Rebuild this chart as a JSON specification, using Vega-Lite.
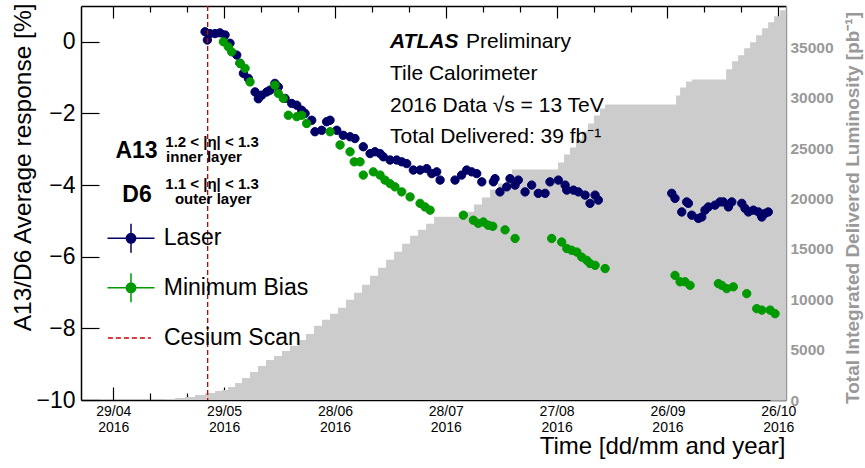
{
  "$schema": "https://vega.github.io/schema/vega-lite/v6.json",
  "width": 705,
  "height": 394,
  "autosize": "none",
  "padding": {"left": 81, "top": 6, "right": 79, "bottom": 68},
  "background": "white",
  "config": {
    "view": {"stroke": null},
    "font": "Liberation Sans",
    "axis": {"grid": false, "zindex": 1, "labelFont": "Liberation Sans", "titleFont": "Liberation Sans", "domainColor": "black", "tickColor": "black", "labelColor": "black", "titleColor": "black", "labelFlush": false, "labelOverlap": false},
    "legend": {"labelFont": "Liberation Sans"}
  },
  "datasets": {
    "response": [
      {"date": "2016-05-23T20:00", "series": "Laser", "value": 0.28},
      {"date": "2016-05-24T11:00", "series": "Laser", "value": 0.05},
      {"date": "2016-05-25T04:00", "series": "Laser", "value": 0.23},
      {"date": "2016-05-26T13:00", "series": "Laser", "value": 0.23},
      {"date": "2016-05-27T21:00", "series": "Laser", "value": 0.25},
      {"date": "2016-05-29T06:00", "series": "Laser", "value": 0.19},
      {"date": "2016-05-30T14:00", "series": "Laser", "value": -0.04},
      {"date": "2016-06-01T10:00", "series": "Laser", "value": -0.37},
      {"date": "2016-06-02T07:00", "series": "Laser", "value": -0.60},
      {"date": "2016-06-03T05:00", "series": "Laser", "value": -0.88},
      {"date": "2016-06-04T13:00", "series": "Laser", "value": -1.02},
      {"date": "2016-06-06T09:00", "series": "Laser", "value": -1.40},
      {"date": "2016-06-07T06:00", "series": "Laser", "value": -1.59},
      {"date": "2016-06-08T04:00", "series": "Laser", "value": -1.49},
      {"date": "2016-06-09T13:00", "series": "Laser", "value": -1.40},
      {"date": "2016-06-10T10:00", "series": "Laser", "value": -1.35},
      {"date": "2016-06-11T18:00", "series": "Laser", "value": -1.16},
      {"date": "2016-06-12T16:00", "series": "Laser", "value": -1.26},
      {"date": "2016-06-14T12:00", "series": "Laser", "value": -1.58},
      {"date": "2016-06-16T07:00", "series": "Laser", "value": -1.72},
      {"date": "2016-06-17T16:00", "series": "Laser", "value": -1.77},
      {"date": "2016-06-19T00:00", "series": "Laser", "value": -1.91},
      {"date": "2016-06-19T22:00", "series": "Laser", "value": -2.00},
      {"date": "2016-06-21T17:00", "series": "Laser", "value": -2.19},
      {"date": "2016-06-22T14:00", "series": "Laser", "value": -2.51},
      {"date": "2016-06-24T10:00", "series": "Laser", "value": -2.47},
      {"date": "2016-06-25T18:00", "series": "Laser", "value": -2.23},
      {"date": "2016-06-26T16:00", "series": "Laser", "value": -2.19},
      {"date": "2016-06-28T12:00", "series": "Laser", "value": -2.47},
      {"date": "2016-06-30T06:00", "series": "Laser", "value": -2.61},
      {"date": "2016-07-02T02:00", "series": "Laser", "value": -2.65},
      {"date": "2016-07-03T10:00", "series": "Laser", "value": -2.70},
      {"date": "2016-07-05T16:00", "series": "Laser", "value": -2.93},
      {"date": "2016-07-07T12:00", "series": "Laser", "value": -3.12},
      {"date": "2016-07-08T20:00", "series": "Laser", "value": -3.07},
      {"date": "2016-07-10T05:00", "series": "Laser", "value": -3.12},
      {"date": "2016-07-11T02:00", "series": "Laser", "value": -3.21},
      {"date": "2016-07-12T22:00", "series": "Laser", "value": -3.30},
      {"date": "2016-07-14T17:00", "series": "Laser", "value": -3.30},
      {"date": "2016-07-16T02:00", "series": "Laser", "value": -3.35},
      {"date": "2016-07-17T10:00", "series": "Laser", "value": -3.40},
      {"date": "2016-07-19T05:00", "series": "Laser", "value": -3.58},
      {"date": "2016-07-21T01:00", "series": "Laser", "value": -3.58},
      {"date": "2016-07-22T20:00", "series": "Laser", "value": -3.54},
      {"date": "2016-07-24T05:00", "series": "Laser", "value": -3.68},
      {"date": "2016-07-25T13:00", "series": "Laser", "value": -3.63},
      {"date": "2016-07-26T11:00", "series": "Laser", "value": -3.86},
      {"date": "2016-07-30T12:00", "series": "Laser", "value": -3.86},
      {"date": "2016-08-01T07:00", "series": "Laser", "value": -3.72},
      {"date": "2016-08-02T16:00", "series": "Laser", "value": -3.58},
      {"date": "2016-08-04T00:00", "series": "Laser", "value": -3.63},
      {"date": "2016-08-05T09:00", "series": "Laser", "value": -3.68},
      {"date": "2016-08-06T18:00", "series": "Laser", "value": -3.91},
      {"date": "2016-08-09T21:00", "series": "Laser", "value": -3.91},
      {"date": "2016-08-10T08:00", "series": "Laser", "value": -3.82},
      {"date": "2016-08-11T16:00", "series": "Laser", "value": -4.19},
      {"date": "2016-08-13T12:00", "series": "Laser", "value": -4.05},
      {"date": "2016-08-14T09:00", "series": "Laser", "value": -3.82},
      {"date": "2016-08-15T18:00", "series": "Laser", "value": -4.00},
      {"date": "2016-08-16T15:00", "series": "Laser", "value": -3.86},
      {"date": "2016-08-18T11:00", "series": "Laser", "value": -4.19},
      {"date": "2016-08-20T06:00", "series": "Laser", "value": -4.00},
      {"date": "2016-08-22T01:00", "series": "Laser", "value": -4.23},
      {"date": "2016-08-23T21:00", "series": "Laser", "value": -4.23},
      {"date": "2016-08-25T05:00", "series": "Laser", "value": -3.91},
      {"date": "2016-08-27T11:00", "series": "Laser", "value": -3.86},
      {"date": "2016-08-29T07:00", "series": "Laser", "value": -4.00},
      {"date": "2016-08-29T18:00", "series": "Laser", "value": -4.14},
      {"date": "2016-08-31T13:00", "series": "Laser", "value": -4.14},
      {"date": "2016-09-01T21:00", "series": "Laser", "value": -4.19},
      {"date": "2016-09-03T17:00", "series": "Laser", "value": -4.28},
      {"date": "2016-09-05T01:00", "series": "Laser", "value": -4.51},
      {"date": "2016-09-06T10:00", "series": "Laser", "value": -4.28},
      {"date": "2016-09-07T07:00", "series": "Laser", "value": -4.42},
      {"date": "2016-09-27T04:00", "series": "Laser", "value": -4.23},
      {"date": "2016-09-28T01:00", "series": "Laser", "value": -4.37},
      {"date": "2016-09-29T21:00", "series": "Laser", "value": -4.75},
      {"date": "2016-10-01T05:00", "series": "Laser", "value": -4.47},
      {"date": "2016-10-01T16:00", "series": "Laser", "value": -4.51},
      {"date": "2016-10-02T14:00", "series": "Laser", "value": -4.84},
      {"date": "2016-10-04T09:00", "series": "Laser", "value": -4.93},
      {"date": "2016-10-05T07:00", "series": "Laser", "value": -4.89},
      {"date": "2016-10-06T04:00", "series": "Laser", "value": -4.70},
      {"date": "2016-10-07T02:00", "series": "Laser", "value": -4.61},
      {"date": "2016-10-08T21:00", "series": "Laser", "value": -4.56},
      {"date": "2016-10-10T06:00", "series": "Laser", "value": -4.47},
      {"date": "2016-10-11T03:00", "series": "Laser", "value": -4.47},
      {"date": "2016-10-12T12:00", "series": "Laser", "value": -4.61},
      {"date": "2016-10-13T10:00", "series": "Laser", "value": -4.47},
      {"date": "2016-10-16T03:00", "series": "Laser", "value": -4.51},
      {"date": "2016-10-17T00:00", "series": "Laser", "value": -4.65},
      {"date": "2016-10-17T22:00", "series": "Laser", "value": -4.75},
      {"date": "2016-10-19T06:00", "series": "Laser", "value": -4.70},
      {"date": "2016-10-20T15:00", "series": "Laser", "value": -4.75},
      {"date": "2016-10-21T13:00", "series": "Laser", "value": -4.89},
      {"date": "2016-10-22T10:00", "series": "Laser", "value": -4.79},
      {"date": "2016-10-23T07:00", "series": "Laser", "value": -4.75},
      {"date": "2016-05-28T19:00", "series": "Minimum Bias", "value": 0.00},
      {"date": "2016-05-30T03:00", "series": "Minimum Bias", "value": -0.14},
      {"date": "2016-05-31T01:00", "series": "Minimum Bias", "value": -0.28},
      {"date": "2016-06-02T07:00", "series": "Minimum Bias", "value": -0.60},
      {"date": "2016-06-03T16:00", "series": "Minimum Bias", "value": -0.74},
      {"date": "2016-06-05T00:00", "series": "Minimum Bias", "value": -1.12},
      {"date": "2016-06-11T18:00", "series": "Minimum Bias", "value": -1.21},
      {"date": "2016-06-12T16:00", "series": "Minimum Bias", "value": -1.44},
      {"date": "2016-06-14T00:00", "series": "Minimum Bias", "value": -1.58},
      {"date": "2016-06-15T09:00", "series": "Minimum Bias", "value": -2.05},
      {"date": "2016-06-17T16:00", "series": "Minimum Bias", "value": -2.09},
      {"date": "2016-06-19T00:00", "series": "Minimum Bias", "value": -2.05},
      {"date": "2016-06-20T08:00", "series": "Minimum Bias", "value": -2.28},
      {"date": "2016-06-26T16:00", "series": "Minimum Bias", "value": -2.51},
      {"date": "2016-06-29T09:00", "series": "Minimum Bias", "value": -2.88},
      {"date": "2016-07-02T02:00", "series": "Minimum Bias", "value": -3.07},
      {"date": "2016-07-03T05:00", "series": "Minimum Bias", "value": -3.35},
      {"date": "2016-07-04T19:00", "series": "Minimum Bias", "value": -3.35},
      {"date": "2016-07-05T16:00", "series": "Minimum Bias", "value": -3.72},
      {"date": "2016-07-08T09:00", "series": "Minimum Bias", "value": -3.63},
      {"date": "2016-07-10T05:00", "series": "Minimum Bias", "value": -3.72},
      {"date": "2016-07-11T13:00", "series": "Minimum Bias", "value": -3.86},
      {"date": "2016-07-12T22:00", "series": "Minimum Bias", "value": -3.96},
      {"date": "2016-07-14T06:00", "series": "Minimum Bias", "value": -4.05},
      {"date": "2016-07-16T02:00", "series": "Minimum Bias", "value": -4.19},
      {"date": "2016-07-18T08:00", "series": "Minimum Bias", "value": -4.33},
      {"date": "2016-07-21T01:00", "series": "Minimum Bias", "value": -4.51},
      {"date": "2016-07-22T09:00", "series": "Minimum Bias", "value": -4.61},
      {"date": "2016-07-23T18:00", "series": "Minimum Bias", "value": -4.70},
      {"date": "2016-08-01T18:00", "series": "Minimum Bias", "value": -4.84},
      {"date": "2016-08-04T11:00", "series": "Minimum Bias", "value": -4.98},
      {"date": "2016-08-05T19:00", "series": "Minimum Bias", "value": -5.07},
      {"date": "2016-08-07T04:00", "series": "Minimum Bias", "value": -5.03},
      {"date": "2016-08-08T12:00", "series": "Minimum Bias", "value": -5.12},
      {"date": "2016-08-09T17:00", "series": "Minimum Bias", "value": -5.15},
      {"date": "2016-08-13T01:00", "series": "Minimum Bias", "value": -5.25},
      {"date": "2016-08-15T18:00", "series": "Minimum Bias", "value": -5.49},
      {"date": "2016-08-25T16:00", "series": "Minimum Bias", "value": -5.49},
      {"date": "2016-08-28T09:00", "series": "Minimum Bias", "value": -5.59},
      {"date": "2016-08-29T18:00", "series": "Minimum Bias", "value": -5.77},
      {"date": "2016-08-31T02:00", "series": "Minimum Bias", "value": -5.82},
      {"date": "2016-09-01T11:00", "series": "Minimum Bias", "value": -5.87},
      {"date": "2016-09-02T19:00", "series": "Minimum Bias", "value": -6.01},
      {"date": "2016-09-04T04:00", "series": "Minimum Bias", "value": -6.10},
      {"date": "2016-09-05T01:00", "series": "Minimum Bias", "value": -6.19},
      {"date": "2016-09-06T10:00", "series": "Minimum Bias", "value": -6.24},
      {"date": "2016-09-09T03:00", "series": "Minimum Bias", "value": -6.33},
      {"date": "2016-09-28T01:00", "series": "Minimum Bias", "value": -6.52},
      {"date": "2016-09-29T10:00", "series": "Minimum Bias", "value": -6.70},
      {"date": "2016-09-30T18:00", "series": "Minimum Bias", "value": -6.70},
      {"date": "2016-10-02T03:00", "series": "Minimum Bias", "value": -6.80},
      {"date": "2016-10-09T19:00", "series": "Minimum Bias", "value": -6.75},
      {"date": "2016-10-10T17:00", "series": "Minimum Bias", "value": -6.80},
      {"date": "2016-10-12T01:00", "series": "Minimum Bias", "value": -6.89},
      {"date": "2016-10-13T20:00", "series": "Minimum Bias", "value": -6.84},
      {"date": "2016-10-17T11:00", "series": "Minimum Bias", "value": -7.03},
      {"date": "2016-10-20T04:00", "series": "Minimum Bias", "value": -7.45},
      {"date": "2016-10-21T13:00", "series": "Minimum Bias", "value": -7.49},
      {"date": "2016-10-23T19:00", "series": "Minimum Bias", "value": -7.49},
      {"date": "2016-10-25T03:00", "series": "Minimum Bias", "value": -7.59}
    ],
    "lumi": [
      {"date": "2016-05-10T20:00", "lumi": 0},
      {"date": "2016-05-13T00:00", "lumi": 99},
      {"date": "2016-05-15T17:00", "lumi": 199},
      {"date": "2016-05-18T10:00", "lumi": 298},
      {"date": "2016-05-21T03:00", "lumi": 497},
      {"date": "2016-05-23T20:00", "lumi": 696},
      {"date": "2016-05-26T13:00", "lumi": 895},
      {"date": "2016-05-28T10:00", "lumi": 994},
      {"date": "2016-05-30T01:00", "lumi": 1293},
      {"date": "2016-05-31T23:00", "lumi": 1691},
      {"date": "2016-06-02T20:00", "lumi": 2188},
      {"date": "2016-06-05T00:00", "lumi": 2784},
      {"date": "2016-06-07T04:00", "lumi": 3381},
      {"date": "2016-06-09T08:00", "lumi": 3977},
      {"date": "2016-06-11T12:00", "lumi": 4375},
      {"date": "2016-06-13T16:00", "lumi": 4872},
      {"date": "2016-06-15T20:00", "lumi": 5369},
      {"date": "2016-06-18T00:00", "lumi": 5966},
      {"date": "2016-06-20T04:00", "lumi": 6562},
      {"date": "2016-06-22T08:00", "lumi": 7358},
      {"date": "2016-06-24T12:00", "lumi": 7955},
      {"date": "2016-06-26T16:00", "lumi": 8551},
      {"date": "2016-06-28T20:00", "lumi": 9148},
      {"date": "2016-07-01T00:00", "lumi": 9943},
      {"date": "2016-07-03T04:00", "lumi": 10639},
      {"date": "2016-07-05T08:00", "lumi": 11435},
      {"date": "2016-07-07T12:00", "lumi": 12330},
      {"date": "2016-07-09T16:00", "lumi": 13125},
      {"date": "2016-07-11T20:00", "lumi": 13921},
      {"date": "2016-07-14T00:00", "lumi": 14716},
      {"date": "2016-07-16T04:00", "lumi": 15512},
      {"date": "2016-07-18T08:00", "lumi": 16308},
      {"date": "2016-07-20T12:00", "lumi": 16904},
      {"date": "2016-07-22T16:00", "lumi": 17501},
      {"date": "2016-07-24T20:00", "lumi": 18196},
      {"date": "2016-08-02T12:00", "lumi": 18694},
      {"date": "2016-08-04T15:00", "lumi": 19390},
      {"date": "2016-08-06T19:00", "lumi": 20086},
      {"date": "2016-08-09T00:00", "lumi": 20881},
      {"date": "2016-08-11T03:00", "lumi": 21478},
      {"date": "2016-08-13T07:00", "lumi": 22273},
      {"date": "2016-08-14T22:00", "lumi": 22870},
      {"date": "2016-08-27T09:00", "lumi": 23566},
      {"date": "2016-08-29T00:00", "lumi": 24361},
      {"date": "2016-08-30T15:00", "lumi": 25057},
      {"date": "2016-09-01T06:00", "lumi": 25852},
      {"date": "2016-09-02T21:00", "lumi": 26648},
      {"date": "2016-09-04T12:00", "lumi": 27443},
      {"date": "2016-09-06T03:00", "lumi": 28239},
      {"date": "2016-09-07T18:00", "lumi": 28935},
      {"date": "2016-09-09T03:00", "lumi": 29332},
      {"date": "2016-09-28T08:00", "lumi": 30227},
      {"date": "2016-09-29T10:00", "lumi": 31023},
      {"date": "2016-10-01T01:00", "lumi": 31619},
      {"date": "2016-10-02T16:00", "lumi": 31818},
      {"date": "2016-10-11T21:00", "lumi": 32812},
      {"date": "2016-10-13T12:00", "lumi": 33608},
      {"date": "2016-10-15T03:00", "lumi": 34204},
      {"date": "2016-10-16T18:00", "lumi": 34900},
      {"date": "2016-10-18T09:00", "lumi": 35497},
      {"date": "2016-10-20T00:00", "lumi": 36193},
      {"date": "2016-10-21T15:00", "lumi": 36889},
      {"date": "2016-10-23T06:00", "lumi": 37486},
      {"date": "2016-10-24T21:00", "lumi": 38082},
      {"date": "2016-10-26T12:00", "lumi": 38679},
      {"date": "2016-10-28T03:00", "lumi": 39076}
    ],
    "cesium": [
      {"date": "2016-05-24T13:00", "kind": "Cesium Scan"}
    ]
  },
  "layer": [
    {
      "data": {"name": "lumi"},
      "mark": {"type": "area", "interpolate": "step-after", "color": "#cccccc", "clip": true},
      "encoding": {
        "x": {"field": "date", "type": "temporal", "scale": {"domain": [{"year": 2016, "month": 4, "date": 20, "hours": 6, "minutes": 10}, {"year": 2016, "month": 10, "date": 28, "hours": 2, "minutes": 10}], "nice": false}, "axis": null},
        "y": {"field": "lumi", "type": "quantitative", "scale": {"domain": [0, 39100], "nice": false, "zero": true},
          "axis": {"orient": "right", "offset": -16, "values": [0, 5000, 10000, 15000, 20000, 25000, 30000, 35000], "format": "d", "tickSize": 16, "tickWidth": 1, "tickColor": "#999999", "domain": false, "labelColor": "#999999", "labelFontWeight": "bold", "labelFontSize": 15.5, "labelPadding": 4, "labelBaseline": "middle",
            "title": "Total Integrated Delivered Luminosity [pb⁻¹]", "titleColor": "#999999", "titleFontWeight": "bold", "titleFontSize": 19, "titleAngle": 270, "titleAlign": "center", "titleBaseline": "middle", "titleX": 82, "titleY": 201.5}}
      }
    },
    {
      "data": {"name": "lumi"},
      "mark": {"type": "point", "opacity": 0},
      "encoding": {
        "x": {"field": "date", "type": "temporal", "scale": {"domain": [{"year": 2016, "month": 4, "date": 20, "hours": 6, "minutes": 10}, {"year": 2016, "month": 10, "date": 28, "hours": 2, "minutes": 10}], "nice": false}, "axis": null},
        "y": {"field": "lumi", "type": "quantitative", "scale": {"domain": [0, 39100], "nice": false, "zero": true},
          "axis": {"orient": "right", "offset": -7, "values": [1000, 2000, 3000, 4000, 6000, 7000, 8000, 9000, 11000, 12000, 13000, 14000, 16000, 17000, 18000, 19000, 21000, 22000, 23000, 24000, 26000, 27000, 28000, 29000, 31000, 32000, 33000, 34000, 36000, 37000, 38000, 39000], "tickSize": 7, "tickWidth": 1, "tickColor": "#999999", "domain": false, "labels": false, "title": null}}
      }
    },
    {
      "data": {"name": "lumi"},
      "mark": {"type": "point", "opacity": 0},
      "encoding": {
        "x": {"field": "date", "type": "temporal", "scale": {"domain": [{"year": 2016, "month": 4, "date": 20, "hours": 6, "minutes": 10}, {"year": 2016, "month": 10, "date": 28, "hours": 2, "minutes": 10}], "nice": false}, "axis": null},
        "y": {"field": "lumi", "type": "quantitative", "scale": {"domain": [0, 39100], "nice": false, "zero": true},
          "axis": {"orient": "right", "ticks": false, "labels": false, "domain": true, "domainColor": "#999999", "domainWidth": 1.5, "title": null}}
      }
    },
    {
      "layer": [
        {
          "data": {"name": "response"},
          "mark": {"type": "point", "filled": true, "size": 70, "opacity": 1, "strokeWidth": 1, "clip": true},
          "encoding": {
            "x": {"field": "date", "type": "temporal", "scale": {"domain": [{"year": 2016, "month": 4, "date": 20, "hours": 6, "minutes": 10}, {"year": 2016, "month": 10, "date": 28, "hours": 2, "minutes": 10}], "nice": false},
              "axis": {"orient": "bottom", "offset": -13, "values": [{"year": 2016, "month": 4, "date": 29}, {"year": 2016, "month": 5, "date": 29}, {"year": 2016, "month": 6, "date": 28}, {"year": 2016, "month": 7, "date": 28}, {"year": 2016, "month": 8, "date": 27}, {"year": 2016, "month": 9, "date": 26}, {"year": 2016, "month": 10, "date": 26}],
                "labelExpr": "[timeFormat(datum.value, '%d/%m'), timeFormat(datum.value, '%Y')]", "labelFontSize": 14, "labelLineHeight": 16, "labelBaseline": "top", "tickSize": 13, "tickWidth": 1.2, "labelPadding": 4, "domain": false,
                "title": "Time [dd/mm and year]", "titleFontSize": 24, "titleFontWeight": "normal", "titleAlign": "right", "titleAnchor": "end", "titleX": 704, "titleY": 66, "titleBaseline": "alphabetic"}},
            "y": {"field": "value", "type": "quantitative", "scale": {"domain": [-10, 1], "nice": false, "zero": false},
              "axis": {"orient": "left", "offset": -18, "values": [-10, -8, -6, -4, -2, 0], "format": "d", "tickSize": 18, "tickWidth": 1.2, "labelPadding": 6, "labelFontSize": 23, "domain": false,
                "title": "A13/D6 Average response [%]", "titleFontSize": 24.5, "titleFontWeight": "normal", "titleAngle": 270, "titleAlign": "right", "titleBaseline": "middle", "titleX": -76, "titleY": -3}},
            "fill": {"field": "series", "type": "nominal", "scale": {"domain": ["Laser", "Minimum Bias"], "range": ["#000066", "#009900"]},
              "legend": {"orient": "none", "legendX": 25.5, "legendY": 207.8, "title": null, "symbolType": "M-1,0L1,0M0,-0.62L0,0.62M-0.2,0A0.2,0.2,0,1,1,0.2,0A0.2,0.2,0,1,1,-0.2,0Z", "symbolSize": 2209, "symbolStrokeWidth": 1.5, "labelFontSize": 23, "labelColor": "black", "labelOffset": 8.3, "rowPadding": 6.5, "labelBaseline": "middle", "padding": 0, "labelLimit": 300, "symbolOpacity": 1}},
            "stroke": {"field": "series", "type": "nominal", "scale": {"domain": ["Laser", "Minimum Bias"], "range": ["#000066", "#009900"]},
              "legend": {"orient": "none", "legendX": 25.5, "legendY": 207.8, "title": null, "symbolType": "M-1,0L1,0M0,-0.62L0,0.62M-0.2,0A0.2,0.2,0,1,1,0.2,0A0.2,0.2,0,1,1,-0.2,0Z", "symbolSize": 2209, "symbolStrokeWidth": 1.5, "labelFontSize": 23, "labelColor": "black", "labelOffset": 8.3, "rowPadding": 6.5, "labelBaseline": "middle", "padding": 0, "labelLimit": 300, "symbolOpacity": 1}}
          }
        },
        {
          "data": {"name": "response"},
          "mark": {"type": "point", "opacity": 0},
          "encoding": {
            "x": {"field": "date", "type": "temporal", "scale": {"domain": [{"year": 2016, "month": 4, "date": 20, "hours": 6, "minutes": 10}, {"year": 2016, "month": 10, "date": 28, "hours": 2, "minutes": 10}], "nice": false},
              "axis": {"orient": "bottom", "offset": -7, "values": [{"year": 2016, "month": 5, "date": 9}, {"year": 2016, "month": 5, "date": 19}, {"year": 2016, "month": 6, "date": 8}, {"year": 2016, "month": 6, "date": 18}, {"year": 2016, "month": 7, "date": 8}, {"year": 2016, "month": 7, "date": 18}, {"year": 2016, "month": 8, "date": 7}, {"year": 2016, "month": 8, "date": 17}, {"year": 2016, "month": 9, "date": 6}, {"year": 2016, "month": 9, "date": 16}, {"year": 2016, "month": 10, "date": 6}, {"year": 2016, "month": 10, "date": 16}], "tickSize": 7, "tickWidth": 1.2, "labels": false, "domain": false, "title": null}}
          }
        },
        {
          "data": {"name": "response"},
          "mark": {"type": "point", "opacity": 0},
          "encoding": {
            "x": {"field": "date", "type": "temporal", "scale": {"domain": [{"year": 2016, "month": 4, "date": 20, "hours": 6, "minutes": 10}, {"year": 2016, "month": 10, "date": 28, "hours": 2, "minutes": 10}], "nice": false},
              "axis": {"orient": "bottom", "ticks": false, "labels": false, "domain": true, "domainWidth": 1.5, "title": null}},
            "y": {"field": "value", "type": "quantitative", "scale": {"domain": [-10, 1], "nice": false, "zero": false},
              "axis": {"orient": "left", "ticks": false, "labels": false, "domain": true, "domainWidth": 1.5, "title": null}}
          }
        },
        {
          "data": {"name": "response"},
          "mark": {"type": "point", "opacity": 0},
          "encoding": {
            "x": {"field": "date", "type": "temporal", "scale": {"domain": [{"year": 2016, "month": 4, "date": 20, "hours": 6, "minutes": 10}, {"year": 2016, "month": 10, "date": 28, "hours": 2, "minutes": 10}], "nice": false},
              "axis": {"orient": "top", "offset": -12, "values": [{"year": 2016, "month": 4, "date": 29}, {"year": 2016, "month": 5, "date": 29}, {"year": 2016, "month": 6, "date": 28}, {"year": 2016, "month": 7, "date": 28}, {"year": 2016, "month": 8, "date": 27}, {"year": 2016, "month": 9, "date": 26}, {"year": 2016, "month": 10, "date": 26}], "tickSize": 12, "tickWidth": 1.2, "labels": false, "domain": false, "title": null}}
          }
        },
        {
          "data": {"name": "response"},
          "mark": {"type": "point", "opacity": 0},
          "encoding": {
            "x": {"field": "date", "type": "temporal", "scale": {"domain": [{"year": 2016, "month": 4, "date": 20, "hours": 6, "minutes": 10}, {"year": 2016, "month": 10, "date": 28, "hours": 2, "minutes": 10}], "nice": false},
              "axis": {"orient": "top", "offset": -6, "values": [{"year": 2016, "month": 5, "date": 9}, {"year": 2016, "month": 5, "date": 19}, {"year": 2016, "month": 6, "date": 8}, {"year": 2016, "month": 6, "date": 18}, {"year": 2016, "month": 7, "date": 8}, {"year": 2016, "month": 7, "date": 18}, {"year": 2016, "month": 8, "date": 7}, {"year": 2016, "month": 8, "date": 17}, {"year": 2016, "month": 9, "date": 6}, {"year": 2016, "month": 9, "date": 16}, {"year": 2016, "month": 10, "date": 6}, {"year": 2016, "month": 10, "date": 16}], "tickSize": 6, "tickWidth": 1.2, "labels": false, "domain": false, "title": null}}
          }
        },
        {
          "data": {"name": "response"},
          "mark": {"type": "point", "opacity": 0},
          "encoding": {
            "x": {"field": "date", "type": "temporal", "scale": {"domain": [{"year": 2016, "month": 4, "date": 20, "hours": 6, "minutes": 10}, {"year": 2016, "month": 10, "date": 28, "hours": 2, "minutes": 10}], "nice": false},
              "axis": {"orient": "top", "ticks": false, "labels": false, "domain": true, "domainWidth": 1.5, "title": null}}
          }
        },
        {
          "data": {"name": "cesium"},
          "mark": {"type": "rule", "color": "#cc0000", "strokeWidth": 1.3},
          "encoding": {
            "x": {"field": "date", "type": "temporal", "scale": {"domain": [{"year": 2016, "month": 4, "date": 20, "hours": 6, "minutes": 10}, {"year": 2016, "month": 10, "date": 28, "hours": 2, "minutes": 10}], "nice": false}, "axis": null},
            "strokeDash": {"field": "kind", "type": "nominal", "scale": {"domain": ["Cesium Scan"], "range": [[5, 3]]},
              "legend": {"orient": "none", "legendX": 25.9, "legendY": 309.5, "title": null, "symbolType": "stroke", "symbolSize": 1849, "symbolStrokeColor": "#cc0000", "symbolStrokeWidth": 1.3, "labelFontSize": 23, "labelColor": "black", "labelOffset": 12.1, "labelBaseline": "middle", "padding": 0, "labelLimit": 300}}
          }
        },
        {
          "data": {"values": [{}]},
          "mark": {"type": "text", "text": "ATLAS", "fontSize": 21, "fontWeight": "bold", "fontStyle": "italic", "align": "left", "baseline": "alphabetic", "color": "black"},
          "encoding": {
            "x": {"datum": {"year": 2016, "month": 7, "date": 12, "hours": 21, "minutes": 36}, "type": "temporal", "axis": null},
            "y": {"datum": -0.181, "type": "quantitative", "axis": null}
          }
        },
        {
          "data": {"values": [{}]},
          "mark": {"type": "text", "text": "Preliminary", "fontSize": 21, "align": "left", "baseline": "alphabetic", "color": "black"},
          "encoding": {
            "x": {"datum": {"year": 2016, "month": 8, "date": 2, "hours": 11, "minutes": 17}, "type": "temporal", "axis": null},
            "y": {"datum": -0.181, "type": "quantitative", "axis": null}
          }
        },
        {
          "data": {"values": [{}]},
          "mark": {"type": "text", "text": ["Tile Calorimeter", "2016 Data √s = 13 TeV", "Total Delivered: 39 fb⁻¹"], "lineHeight": 31.7, "fontSize": 21, "align": "left", "baseline": "alphabetic", "color": "black"},
          "encoding": {
            "x": {"datum": {"year": 2016, "month": 7, "date": 12, "hours": 21, "minutes": 36}, "type": "temporal", "axis": null},
            "y": {"datum": -1.066, "type": "quantitative", "axis": null}
          }
        },
        {
          "data": {"values": [{}]},
          "mark": {"type": "text", "text": "A13", "fontSize": 23, "fontWeight": "bold", "align": "center", "baseline": "alphabetic", "color": "black"},
          "encoding": {
            "x": {"datum": {"year": 2016, "month": 5, "date": 5, "hours": 6, "minutes": 40}, "type": "temporal", "axis": null},
            "y": {"datum": -3.244, "type": "quantitative", "axis": null}
          }
        },
        {
          "data": {"values": [{}]},
          "mark": {"type": "text", "text": "D6", "fontSize": 23, "fontWeight": "bold", "align": "center", "baseline": "alphabetic", "color": "black"},
          "encoding": {
            "x": {"datum": {"year": 2016, "month": 5, "date": 5, "hours": 9, "minutes": 50}, "type": "temporal", "axis": null},
            "y": {"datum": -4.472, "type": "quantitative", "axis": null}
          }
        },
        {
          "data": {"values": [{}]},
          "mark": {"type": "text", "text": "1.2 < |η| < 1.3", "fontSize": 15, "fontWeight": "bold", "align": "center", "baseline": "alphabetic", "color": "black"},
          "encoding": {
            "x": {"datum": {"year": 2016, "month": 5, "date": 25, "hours": 17, "minutes": 16}, "type": "temporal", "axis": null},
            "y": {"datum": -2.923, "type": "quantitative", "axis": null}
          }
        },
        {
          "data": {"values": [{}]},
          "mark": {"type": "text", "text": "inner layer", "fontSize": 15, "fontWeight": "bold", "align": "center", "baseline": "alphabetic", "color": "black"},
          "encoding": {
            "x": {"datum": {"year": 2016, "month": 5, "date": 23, "hours": 13, "minutes": 12}, "type": "temporal", "axis": null},
            "y": {"datum": -3.355, "type": "quantitative", "axis": null}
          }
        },
        {
          "data": {"values": [{}]},
          "mark": {"type": "text", "text": "1.1 < |η| < 1.3", "fontSize": 15, "fontWeight": "bold", "align": "center", "baseline": "alphabetic", "color": "black"},
          "encoding": {
            "x": {"datum": {"year": 2016, "month": 5, "date": 25, "hours": 17, "minutes": 16}, "type": "temporal", "axis": null},
            "y": {"datum": -4.109, "type": "quantitative", "axis": null}
          }
        },
        {
          "data": {"values": [{}]},
          "mark": {"type": "text", "text": "outer layer", "fontSize": 15, "fontWeight": "bold", "align": "center", "baseline": "alphabetic", "color": "black"},
          "encoding": {
            "x": {"datum": {"year": 2016, "month": 5, "date": 26, "hours": 1, "minutes": 40}, "type": "temporal", "axis": null},
            "y": {"datum": -4.514, "type": "quantitative", "axis": null}
          }
        }
      ],
      "resolve": {"axis": {"x": "independent", "y": "independent"}}
    }
  ],
  "resolve": {"scale": {"y": "independent"}, "axis": {"x": "independent", "y": "independent"}}
}
